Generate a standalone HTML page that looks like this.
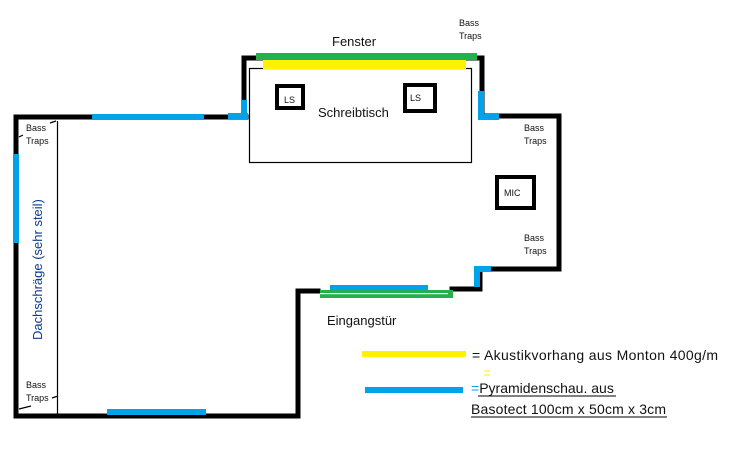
<!DOCTYPE html>
<html><head><meta charset="utf-8"><style>
body{margin:0;background:#fff}
svg text{font-family:"Liberation Sans",sans-serif}
</style></head><body>
<svg width="729" height="457" viewBox="0 0 729 457" xmlns="http://www.w3.org/2000/svg">
<rect width="729" height="457" fill="#fff"/>
<g stroke="#000" stroke-width="5" fill="none" stroke-linecap="square">
<path d="M16 117 H246"/>
<path d="M16 117 V416 H298 V291 H318"/>
<path d="M452 289 H480 V269 H559 V116 H482"/>
<path d="M244 117 V58 H482 V116"/>
</g>
<g fill="none" stroke="#000" stroke-width="1.2">
<rect x="249.5" y="68.5" width="222" height="94"/>
<path d="M57.5 121 V415"/>
<path d="M50 123 l6 -2 M19 137 l4 -2 M52 398 l6 -2 M19 409 l12 -3"/>
</g>
<rect x="256" y="53" width="221" height="7" fill="#22b14c"/>
<rect x="263" y="60" width="203" height="9" fill="#fff200"/>
<g fill="#00a2e8">
<rect x="92" y="114" width="112" height="6"/>
<rect x="228" y="113" width="20" height="6"/>
<rect x="242" y="100" width="5" height="18"/>
<rect x="13" y="154" width="6" height="89"/>
<rect x="107" y="409" width="99" height="6"/>
<rect x="478" y="91" width="6" height="26"/>
<rect x="478" y="114" width="21" height="6"/>
<rect x="474" y="266" width="17" height="6"/>
<rect x="474" y="266" width="6" height="21"/>
<rect x="330" y="285" width="98" height="6"/>
<rect x="365" y="387" width="98" height="6"/>
</g>
<rect x="320" y="290" width="133" height="8" fill="#22b14c"/>
<rect x="320" y="293" width="128" height="1.2" fill="#fff"/>
<rect x="362" y="351" width="104" height="6" fill="#fff200"/>
<g fill="none" stroke="#000" stroke-width="4">
<rect x="277" y="86" width="26" height="22"/>
<rect x="405" y="85" width="30" height="26"/>
<rect x="497" y="177" width="37" height="31"/>
</g>
<g font-size="13" fill="#111">
<text x="332" y="46">Fenster</text>
<text x="318" y="117">Schreibtisch</text>
<text x="327" y="325">Eingangstür</text>
<text x="472" y="360" font-size="14" textLength="246">= Akustikvorhang aus Monton 400g/m</text>
<text x="471" y="393" font-size="14"><tspan fill="#00a2e8">=</tspan>Pyramidenschau. aus</text>
<text x="471" y="414" font-size="14" textLength="195">Basotect 100cm x 50cm x 3cm</text>
</g>
<path d="M478 396 H616 M471 417 H667" stroke="#000" stroke-width="1"/>
<path d="M484 371 H490 M484 375 H490" stroke="#fff200" stroke-width="1"/>
<g font-size="9" fill="#111">
<text x="459" y="26">Bass</text><text x="459" y="39">Traps</text>
<text x="524" y="131">Bass</text><text x="524" y="144">Traps</text>
<text x="524" y="241">Bass</text><text x="524" y="254">Traps</text>
<text x="26" y="131">Bass</text><text x="26" y="144">Traps</text>
<text x="26" y="388">Bass</text><text x="26" y="401">Traps</text>
<text x="284" y="103">LS</text>
<text x="410" y="101">LS</text>
<text x="504" y="196">MIC</text>
</g>
<text transform="translate(42,340) rotate(-90)" font-size="13" fill="#0a3d8f">Dachschräge (sehr steil)</text>
</svg>
</body></html>
